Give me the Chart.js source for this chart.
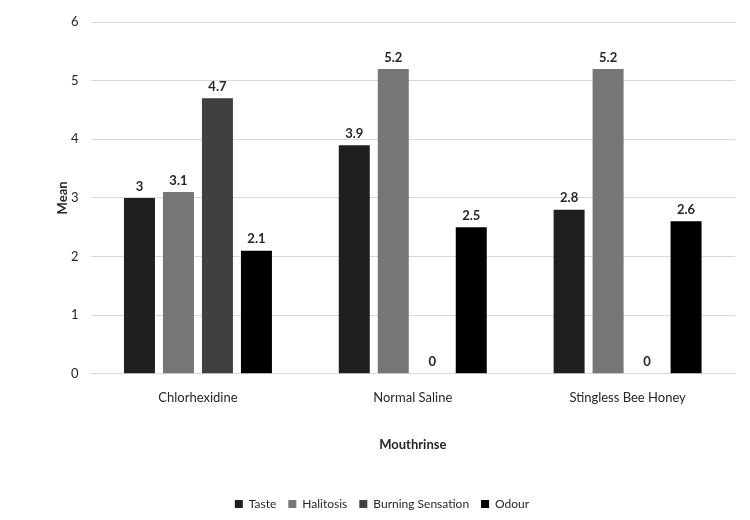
<!DOCTYPE html>
<html>
<head>
<meta charset="utf-8">
<script src="https://cdn.jsdelivr.net/npm/chart.js@4.4.0/dist/chart.umd.min.js"></script>
<style>
html,body{margin:0;padding:0;background:#fff;}
#wrap{width:750px;height:520px;position:relative;}
</style>
</head>
<body>
<div id="wrap"><canvas id="c" width="750" height="520"></canvas></div>
<script>
const categories = ["Chlorhexidine", "Normal Saline", "Stingless Bee Honey"];
const taste = [3, 3.9, 2.8];
const halitosis = [3.1, 5.2, 5.2];
const burningSensation = [4.7, 0, 0];
const odour = [2.1, 2.5, 2.6];
const yTicks = [0, 1, 2, 3, 4, 5, 6];

const FONT = "Lato, 'Open Sans', sans-serif";

const labelPlugin = {
  id: 'valueLabels',
  afterUpdate(chart) {
    const lg = chart.legend;
    if (lg) { lg.left -= 15; lg.right -= 15; }
  },
  afterDatasetsDraw(chart) {
    const ctx = chart.ctx;
    ctx.save();
    ctx.font = "bold 13px " + FONT;
    ctx.fillStyle = "#262626";
    ctx.textAlign = "center";
    ctx.textBaseline = "bottom";
    chart.data.datasets.forEach((ds, i) => {
      const meta = chart.getDatasetMeta(i);
      meta.data.forEach((bar, j) => {
        const v = ds.data[j];
        ctx.fillText(String(v), bar.x, bar.y - 5);
      });
    });
    // y axis title
    const area = chart.chartArea;
    ctx.translate(area.left - 28, (area.top + area.bottom) / 2);
    ctx.rotate(-Math.PI / 2);
    ctx.textBaseline = "middle";
    ctx.fillText("Mean", 0, 0);
    ctx.restore();
  }
};

new Chart(document.getElementById('c'), {
  type: 'bar',
  data: {
    labels: categories,
    datasets: [
      { label: 'Taste', data: taste, backgroundColor: '#1f1f1f' },
      { label: 'Halitosis', data: halitosis, backgroundColor: '#767676' },
      { label: 'Burning Sensation', data: burningSensation, backgroundColor: '#404040' },
      { label: 'Odour', data: odour, backgroundColor: '#000000' }
    ]
  },
  options: {
    responsive: false,
    animation: false,
    devicePixelRatio: 1,
    layout: { padding: { left: 59, right: 15, top: 22, bottom: 0 } },
    datasets: { bar: { categoryPercentage: 0.726, barPercentage: 0.795 } },
    plugins: {
      legend: {
        position: 'bottom',
        labels: {
          boxWidth: 8, boxHeight: 8, padding: 12,
          color: '#262626',
          font: { family: FONT, size: 12 }
        }
      },
      tooltip: { enabled: false }
    },
    scales: {
      x: {
        grid: { display: false },
        border: { display: true, color: '#d9d9d9' },
        ticks: { color: '#262626', font: { family: FONT, size: 13 }, padding: 8 },
        title: { display: true, text: 'Mouthrinse', color: '#262626', font: { family: FONT, size: 13, weight: 'bold' }, padding: { top: 24, bottom: 33 } }
      },
      y: {
        min: 0, max: 6,
        afterBuildTicks(axis) { axis.ticks = yTicks.map(v => ({ value: v })); },
        grid: { color: '#d9d9d9', drawTicks: false },
        border: { display: false },
        ticks: { color: '#262626', font: { family: FONT, size: 13 }, padding: 12 },
        title: { display: false }
      }
    }
  },
  plugins: [labelPlugin]
});
</script>
</body>
</html>
